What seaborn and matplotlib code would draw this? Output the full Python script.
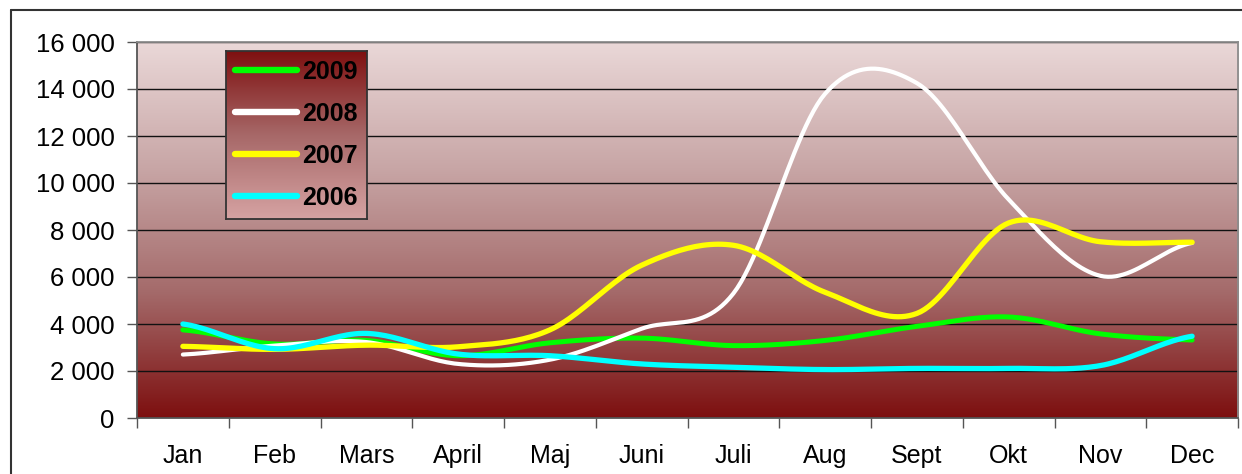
import numpy as np
import pandas as pd
import seaborn as sns
import matplotlib.pyplot as plt
from matplotlib.colors import LinearSegmentedColormap
from matplotlib.ticker import FixedLocator, FuncFormatter

months = ["Jan", "Feb", "Mars", "April", "Maj", "Juni", "Juli", "Aug", "Sept", "Okt", "Nov", "Dec"]
years = ["2009", "2008", "2007", "2006"]
v2009 = [3750, 3150, 3300, 2650, 3200, 3400, 3080, 3300, 3900, 4300, 3580, 3320]
v2008 = [2700, 3080, 3230, 2300, 2480, 3800, 5300, 13800, 14250, 9300, 6050, 7450]
v2007 = [3050, 2920, 3100, 3030, 3750, 6500, 7350, 5350, 4450, 8300, 7500, 7480]
v2006 = [4000, 2950, 3600, 2720, 2650, 2300, 2160, 2060, 2110, 2110, 2230, 3480]
series = {"2009": v2009, "2008": v2008, "2007": v2007, "2006": v2006}
colors = {"2009": "#00ff00", "2008": "#ffffff", "2007": "#ffff00", "2006": "#00ffff"}
widths = {"2009": 3.6, "2008": 3.0, "2007": 3.8, "2006": 3.8}


def smooth(vals, n=24):
    # Excel style smoothed line (cardinal spline through the points)
    p = np.asarray(vals, dtype=float)
    ext = np.concatenate([[p[0]], p, [p[-1]]])
    m = (ext[2:] - ext[:-2]) / 2
    xs, ys = [], []
    for i in range(len(p) - 1):
        t = np.linspace(0, 1, n, endpoint=False)
        h00 = 2 * t**3 - 3 * t**2 + 1
        h10 = t**3 - 2 * t**2 + t
        h01 = -2 * t**3 + 3 * t**2
        h11 = t**3 - t**2
        xs.append(i + t)
        ys.append(h00 * p[i] + h10 * m[i] + h01 * p[i + 1] + h11 * m[i + 1])
    xs.append([len(p) - 1])
    ys.append([p[-1]])
    return np.concatenate(xs), np.concatenate(ys)


frames = []
for yr in years:
    sx, sy = smooth(series[yr])
    frames.append(pd.DataFrame({"x": sx, "value": sy, "year": yr}))
df = pd.concat(frames, ignore_index=True)

sns.set_theme(style="white")
plt.rcParams["font.family"] = ["Liberation Sans", "DejaVu Sans"]
plt.rcParams["text.color"] = "black"

fig = plt.figure(figsize=(12.42, 4.74), dpi=100)
ax = fig.add_axes([137 / 1242, 56 / 474, 1101 / 1242, 376 / 474])

# plot area gradient
bg = LinearSegmentedColormap.from_list("bg", ["#7d0f0f", "#a46a6a", "#c8a6a6", "#ead8d8"])
grad = np.linspace(0, 1, 256).reshape(-1, 1)
ax.imshow(grad, cmap=bg, aspect="auto", origin="lower",
          extent=[-0.5, 11.5, 0, 16000], zorder=0)

for i, yr in enumerate(years):
    sns.lineplot(data=df[df["year"] == yr], x="x", y="value", ax=ax, sort=False,
                 estimator=None, color=colors[yr], linewidth=widths[yr],
                 solid_capstyle="round", zorder=3 + i, legend=False)

ax.set_xlim(-0.5, 11.5)
ax.set_ylim(0, 16000)
ax.set_xlabel("")
ax.set_ylabel("")

yt = np.arange(0, 16001, 2000)
ax.set_yticks(yt)
ax.yaxis.set_major_formatter(FuncFormatter(lambda v, _: f"{int(v):,}".replace(",", " ")))
for v in yt[1:]:
    ax.axhline(v, color="#111111", linewidth=1.0, zorder=1)

ax.xaxis.set_major_locator(FixedLocator(np.arange(-0.5, 12, 1)))
ax.xaxis.set_major_formatter(FuncFormatter(lambda v, _: ""))
ax.xaxis.set_minor_locator(FixedLocator(np.arange(12)))
ax.set_xticklabels(months, minor=True)
ax.tick_params(axis="x", which="major", direction="out", length=7, width=1, color="#555555", bottom=True)
ax.tick_params(axis="x", which="minor", length=0, pad=19, labelsize=18, labelcolor="black", bottom=True)
ax.tick_params(axis="y", which="major", direction="out", length=7, width=1, color="#555555",
               pad=9, labelsize=18.5, labelcolor="black", left=True)

for side in ["left", "bottom"]:
    ax.spines[side].set_color("#555555")
    ax.spines[side].set_linewidth(1.3)
for side in ["top", "right"]:
    ax.spines[side].set_color("#8c8c8c")
    ax.spines[side].set_linewidth(1.3)

# legend box with its own gradient
lax = fig.add_axes([226 / 1242, (474 - 219) / 474, 141 / 1242, 168 / 474])
lg = LinearSegmentedColormap.from_list("lg", ["#d6a3a3", "#a76868", "#7e1010"])
lax.imshow(grad, cmap=lg, aspect="auto", origin="lower", extent=[0, 1, 0, 1])
lax.set_xticks([])
lax.set_yticks([])
for s in lax.spines.values():
    s.set_color("#333333")
    s.set_linewidth(1.3)
handles = ax.get_lines()[:4]
leg = lax.legend(handles, years, loc="center", frameon=False,
                 prop={"weight": "bold", "size": 18}, handlelength=2.5,
                 handletextpad=0.2, labelspacing=0.72, borderaxespad=0)
for h, yr in zip(leg.get_lines(), years):
    h.set_linewidth(4.6)
    h.set_color(colors[yr])
for t in leg.get_texts():
    t.set_color("black")

# outer chart border
fig.add_artist(plt.Line2D([11 / 1242, 11 / 1242], [0, 1 - 10 / 474], color="#333333", linewidth=1.5))
fig.add_artist(plt.Line2D([11 / 1242, 1], [1 - 10 / 474, 1 - 10 / 474], color="#333333", linewidth=1.5))

fig.savefig("out.png", dpi=100)
